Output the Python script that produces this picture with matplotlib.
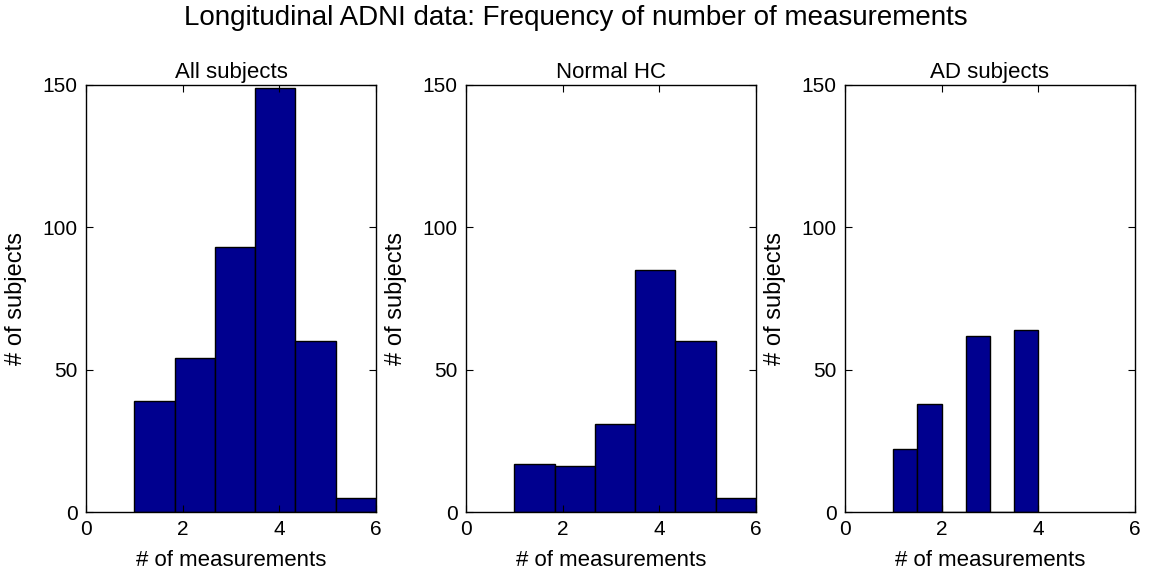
import numpy as np
import matplotlib.pyplot as plt

plt.rcParams['font.family'] = ['Liberation Sans', 'DejaVu Sans']

# histogram bins and counts per group
titles = ['All subjects', 'Normal HC', 'AD subjects']
edges_all = [1, 11 / 6, 16 / 6, 3.5, 26 / 6, 31 / 6, 6]
edges_ad = [1, 1.5, 2, 2.5, 3, 3.5, 4]
counts_all = [39, 54, 93, 149, 60, 5]
counts_hc = [17, 16, 31, 85, 60, 5]
counts_ad = [22, 38, 0, 62, 0, 64]

edges = [edges_all, edges_all, edges_ad]
counts = [counts_all, counts_hc, counts_ad]

fig = plt.figure(figsize=(11.52, 5.79), dpi=100)
lefts = [0.0747, 0.4045, 0.7335]
bar_color = '#00008f'

for left, title, e, c in zip(lefts, titles, edges, counts):
    ax = fig.add_axes([left, 0.1157, 0.2517, 0.7375])
    e = np.array(e)
    ax.bar(e[:-1], c, width=np.diff(e), align='edge',
           color=bar_color, edgecolor='black', linewidth=1)
    ax.set_xlim(0, 6)
    ax.set_ylim(0, 150)
    ax.set_xticks([0, 2, 4, 6])
    ax.set_yticks([0, 50, 100, 150])
    ax.tick_params(direction='in', top=True, right=True, labelsize=15,
                   length=5, width=0.8)
    ax.tick_params(axis='x', pad=6)
    ax.tick_params(axis='y', pad=6)
    for s in ax.spines.values():
        s.set_linewidth(1)
    ax.set_title(title, fontsize=16, pad=5)
    ax.set_xlabel('# of measurements', fontsize=16, labelpad=8)
    ax.set_ylabel('# of subjects', fontsize=17, labelpad=11)

fig.suptitle('Longitudinal ADNI data: Frequency of number of measurements',
             fontsize=20, y=0.992)

fig.savefig('out.png', dpi=100)
